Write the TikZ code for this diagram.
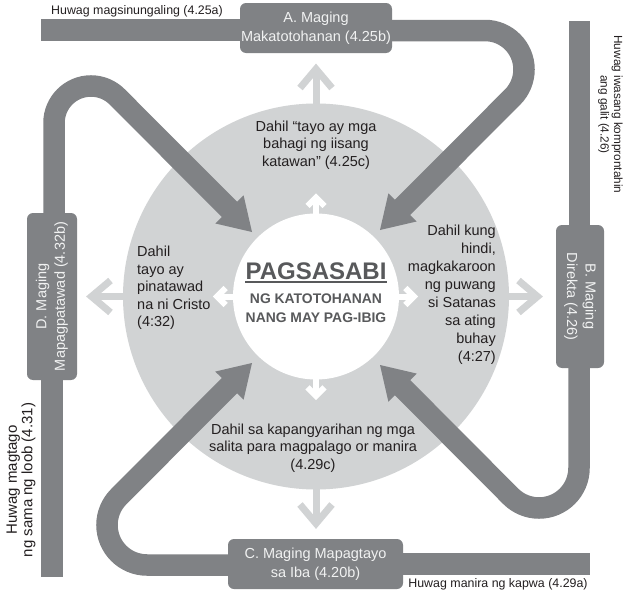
\documentclass[tikz,border=0pt]{standalone}
\usepackage{fontspec}
\setmainfont{Liberation Sans}
\usetikzlibrary{calc}
\definecolor{dk}{HTML}{808285}
\definecolor{lt}{HTML}{D1D3D4}
\definecolor{txt}{HTML}{231F20}
\definecolor{ctr}{HTML}{58595B}
\definecolor{boxtxt}{HTML}{F1F2F2}
\begin{document}
\begin{tikzpicture}[x=1pt,y=-1pt,
  band/.style={draw=dk, line width=21.5pt},
  head/.style={fill=dk},
  box/.style={fill=dk, rounded corners=6pt, inner sep=0pt, text=boxtxt,
    font=\fontsize{14.5}{18.5}\selectfont, align=center},
  lbl/.style={text=txt, inner sep=0pt, align=center},
  body/.style={text=txt, font=\fontsize{14.5}{17.5}\selectfont, inner sep=0pt},
  ltarr/.style={draw=lt, line width=7pt},
  wtarr/.style={draw=white, line width=6pt},
]
\useasboundingbox (0,0) rectangle (625,597);
\fill[white] (0,0) rectangle (625,597);

% central discs
\coordinate (O) at (316,296.5);
\fill[lt] (O) circle[radius=193];

% light outer arrows
\draw[ltarr] (316,110) -- (316,70);
\draw[ltarr] (300,88) -- (316,69) -- (332,88);
\draw[ltarr] (316,485) -- (316,523);
\draw[ltarr] (300,504.5) -- (316,523.5) -- (332,504.5);
\draw[ltarr] (130,296.5) -- (92,296.5);
\draw[ltarr] (110.5,280.5) -- (91.5,296.5) -- (110.5,312.5);
\draw[ltarr] (500,296.5) -- (537,296.5);
\draw[ltarr] (518.5,280.5) -- (537.5,296.5) -- (518.5,312.5);

\fill[white] (O) circle[radius=83];

% white inner arrows
\draw[wtarr] (316,215) -- (316,198);
\draw[wtarr] (307.5,206) -- (316,197.5) -- (324.5,206);
\draw[wtarr] (316,378) -- (316,395);
\draw[wtarr] (307.5,387.3) -- (316,395.8) -- (324.5,387.3);
\draw[wtarr] (235,296.5) -- (218,296.5);
\draw[wtarr] (225.7,288) -- (217.2,296.5) -- (225.7,305);
\draw[wtarr] (397,296.5) -- (413,296.5);
\draw[wtarr] (405.3,288) -- (413.8,296.5) -- (405.3,305);

% centre title
\node[font=\fontsize{24}{28}\selectfont\bfseries, text=ctr, anchor=base, inner sep=0pt] (pag) at (316,279) {PAGSASABI};
\draw[ctr, line width=2pt] ([yshift=-3pt]pag.base west) -- ([yshift=-3pt]pag.base east);
\node[font=\fontsize{13.9}{19}\selectfont\bfseries, text=ctr, align=center, inner sep=0pt] (sub) at (316,308) {NG KATOTOHANAN\\NANG MAY PAG-IBIG};

% texts in the grey ring
\node[body, align=center] (t1) at (316,145) {Dahil “tayo ay mga\\bahagi ng iisang\\katawan” (4.25c)};
\node[body, align=right, anchor=east, font=\fontsize{14.5}{18}\selectfont] (t2) at (496,295) {Dahil kung\\hindi,\\magkakaroon\\ng puwang\\si Satanas\\sa ating\\buhay\\(4:27)};
\node[body, align=center] (t3) at (313,448) {Dahil sa kapangyarihan ng mga\\salita para magpalago or manira\\(4.29c)};
\node[body, align=left, anchor=west] (t4) at (137,288) {Dahil\\tayo ay\\pinatawad\\na ni Cristo\\(4:32)};

% boxes
\node[box, minimum width=152pt, minimum height=50pt] (A) at (316,28) {A. Maging\\Makatotohanan (4.25b)};
\node[box, rotate=-90, minimum width=143pt, minimum height=48pt] (B) at (580,296.5) {B. Maging\\Direkta (4.26)};
\node[box, minimum width=175pt, minimum height=50pt] (C) at (315.5,564) {C. Maging Mapagtayo\\sa Iba (4.20b)};
\node[box, rotate=90, minimum width=167pt, minimum height=50pt] (D) at (52,296.5) {D. Maging\\Mapagpatawad (4.32b)};

% free ends
\coordinate (aEnd) at (41,30);
\coordinate (bEnd) at (579.5,21);
\coordinate (cEnd) at (590,564);
\coordinate (dEnd) at (52,577);
\coordinate (tipA) at (380,230);
\coordinate (tipB) at (380,365);
\coordinate (tipC) at (252,363);
\coordinate (tipD) at (252,232);

% straight bars
\draw[band] ([yshift=-2pt]A.west) -- (aEnd);
\draw[band] ([xshift=-0.5pt]B.west) -- (bEnd);
\draw[band] (C.east) -- (cEnd);
\draw[band] (D.west) -- (dEnd);

% curved arrows
\draw[band, shorten >=30pt] ([yshift=-2.5pt]A.east) -- (485,30.5)
  arc[start angle=-90, end angle=45, radius=39] coordinate (Aturn) -- (tipA);
\fill[head] (tipA) -- ($(tipA)!37.7pt!32:(Aturn)$) -- ($(tipA)!37.7pt!-32:(Aturn)$) -- cycle;

\draw[band, shorten >=30pt] ([xshift=-1pt]B.east) -- (579,468)
  arc[start angle=0, end angle=135, radius=40] coordinate (Bturn) -- (tipB);
\fill[head] (tipB) -- ($(tipB)!37.7pt!32:(Bturn)$) -- ($(tipB)!37.7pt!-32:(Bturn)$) -- cycle;

\draw[band, shorten >=30pt] ([yshift=-1pt]C.west) -- (147,565)
  arc[start angle=90, end angle=225, radius=40] coordinate (Cturn) -- (tipC);
\fill[head] (tipC) -- ($(tipC)!37.7pt!32:(Cturn)$) -- ($(tipC)!37.7pt!-32:(Cturn)$) -- cycle;

\draw[band, shorten >=30pt] ([xshift=2pt]D.east) -- (54,123)
  arc[start angle=180, end angle=315, radius=37] coordinate (Dturn) -- (tipD);
\fill[head] (tipD) -- ($(tipD)!37.7pt!32:(Dturn)$) -- ($(tipD)!37.7pt!-32:(Dturn)$) -- cycle;

% outer labels
\node[lbl, font=\fontsize{12.4}{14}\selectfont] (l1) at (137,11) {Huwag magsinungaling (4.25a)};
\node[lbl, rotate=-90, font=\fontsize{11.8}{13.5}\selectfont] (l2) at (610.5,114.5) {Huwag iwasang komprontahin\\ang galit (4.26)};
\node[lbl, rotate=90, font=\fontsize{15}{15.5}\selectfont] (l3) at (21,480) {Huwag magtago\\ng sama ng loob (4.31)};
\node[lbl, font=\fontsize{12.4}{14}\selectfont] (l4) at (498,584) {Huwag manira ng kapwa (4.29a)};
\end{tikzpicture}
\end{document}
